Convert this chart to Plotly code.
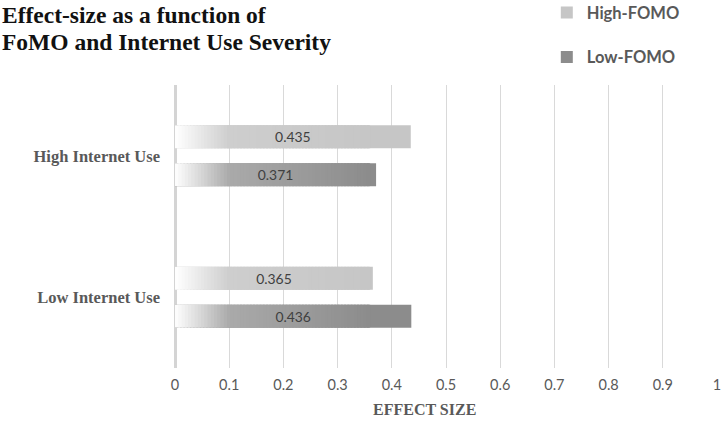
import plotly.graph_objects as go

categories = ["Low Internet Use", "High Internet Use"]
high_fomo = [0.365, 0.435]
low_fomo = [0.436, 0.371]
tick_vals = [0, 0.1, 0.2, 0.3, 0.4, 0.5, 0.6, 0.7, 0.8, 0.9, 1]
tick_text = ["0", "0.1", "0.2", "0.3", "0.4", "0.5", "0.6", "0.7", "0.8", "0.9", "1"]

# styling: gradient stops (data-unit position, grey level); last stop = bar colour
series = [
    ("Low-FOMO", low_fomo, [(0.0, 255), (0.1, 170), (0.36, 140)], "g_low"),
    ("High-FOMO", high_fomo, [(0.0, 255), (0.1, 206), (0.36, 198)], "g_high"),
]

NSEG = 60


def grey_at(stops, x):
    for (x0, g0), (x1, g1) in zip(stops[:-1], stops[1:]):
        if x <= x1:
            t = (x - x0) / (x1 - x0)
            return g0 + (g1 - g0) * t
    return stops[-1][1]


fig = go.Figure()
for name, vals, stops, grp in series:
    g_end = stops[-1][1]
    fig.add_trace(go.Bar(
        y=categories, x=vals, orientation="h", name=name,
        marker=dict(color="rgb(%d,%d,%d)" % (g_end, g_end, g_end), line=dict(width=0)),
        offsetgroup=grp, legendgroup=grp, hoverinfo="skip",
        legendrank=2 if name == "Low-FOMO" else 1,
    ))
    span = stops[-1][0]
    step = span / NSEG
    for i in range(NSEG):
        g = int(round(grey_at(stops, (i + 0.5) * step)))
        w = step * 1.6 if i < NSEG - 1 else step
        fig.add_trace(go.Bar(
            y=categories, x=[w] * len(categories),
            base=[i * step] * len(categories),
            orientation="h",
            marker=dict(color="rgb(%d,%d,%d)" % (g, g, g), line=dict(width=0)),
            offsetgroup=grp, showlegend=False, hoverinfo="skip",
        ))
    # value labels drawn on top of the decoration
    fig.add_trace(go.Bar(
        y=categories, x=vals, orientation="h", name=name,
        marker=dict(color="rgba(0,0,0,0)", line=dict(width=0)),
        text=["%.3f" % v for v in vals], textposition="inside",
        insidetextanchor="middle",
        textfont=dict(family="Lato", size=14, color="#404040"),
        offsetgroup=grp, showlegend=False,
    ))

fig.update_layout(
    width=722, height=429,
    margin=dict(l=175, r=5, t=85, b=61, autoexpand=False),
    paper_bgcolor="white", plot_bgcolor="white",
    barmode="group", bargap=0.465, bargroupgap=0.395,
    legend=dict(
        x=0.686, xanchor="left", y=1.317, yanchor="top",
        font=dict(family="Lato", size=16.5, color="#595959", weight="bold"),
        tracegroupgap=20, itemwidth=30, bgcolor="rgba(0,0,0,0)",
    ),
    xaxis=dict(
        range=[0, 1], tickvals=tick_vals, ticktext=tick_text,
        showgrid=True, gridcolor="#d9d9d9", gridwidth=1,
        zeroline=True, zerolinecolor="#d4d4d4", zerolinewidth=3,
        tickfont=dict(family="Lato", size=14.5, color="#595959"),
        ticks="", showline=False, fixedrange=True, automargin=False,
        ticklabelstandoff=6,
    ),
    yaxis=dict(
        showgrid=False, zeroline=False, showline=False, ticks="",
        tickfont=dict(family="Liberation Serif", size=16.5, color="#595959",
                      weight="bold"),
        ticklabelstandoff=14, automargin=False, fixedrange=True,
    ),
    annotations=[
        dict(text="<b>Effect-size as a function of</b>", xref="paper", yref="paper",
             x=-0.323, y=(368 - 15) / 283, xanchor="left", yanchor="middle",
             showarrow=False,
             font=dict(family="Liberation Serif", size=23.5, color="#111111")),
        dict(text="<b>FoMO and Internet Use Severity</b>", xref="paper", yref="paper",
             x=-0.323, y=(368 - 42) / 283, xanchor="left", yanchor="middle",
             showarrow=False,
             font=dict(family="Liberation Serif", size=23.5, color="#111111")),
        dict(text="<b>EFFECT SIZE</b>", xref="paper", yref="paper",
             x=0.461, y=-0.148, xanchor="center", yanchor="middle", showarrow=False,
             font=dict(family="Liberation Serif", size=16, color="#595959")),
    ],
    showlegend=True,
)

fig.write_html("out.html", config={"displayModeBar": False},
               post_script="document.body.style.margin='0';")
